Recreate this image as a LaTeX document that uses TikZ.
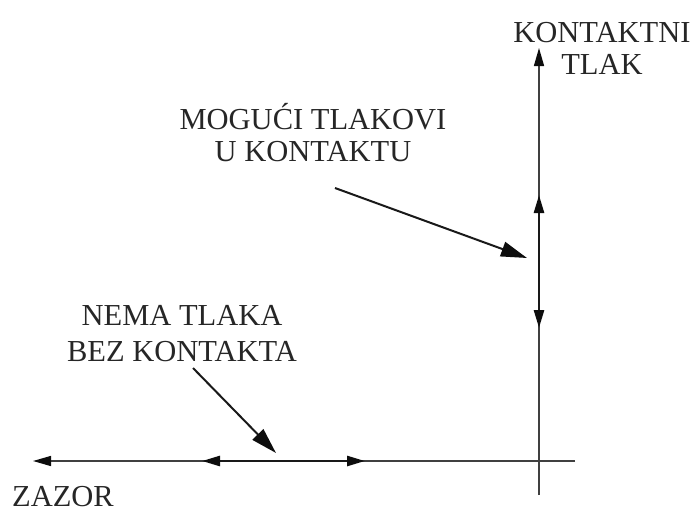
\documentclass[tikz,border=0pt]{standalone}
\usepackage{fontspec}
\setmainfont{Liberation Serif}
\usetikzlibrary{arrows.meta}

\tikzset{
	axis/.style={line width=1.4pt, draw=black!75},
	band/.style={line width=2.6pt, draw=black!90},
	tip/.style={-{Triangle[length=18pt,width=10pt,color=black!95]}},
	twotips/.style={{Triangle[length=18pt,width=10pt,color=black!95]}-{Triangle[length=18pt,width=10pt,color=black!95]}},
	pointer/.style={line width=2pt, draw=black!90, -{Triangle[length=26pt,width=15pt,color=black!95]}},
	label/.style={font=\fontsize{30.5}{32}\selectfont, align=center, inner sep=0pt, text=black!85},
}

\begin{document}
\begin{tikzpicture}[x=1pt, y=-1pt]
	\useasboundingbox (0,0) rectangle (697,512);
	
	% axes
	\coordinate (hl) at (33,461);
	\coordinate (hr) at (575,461);
	\coordinate (vt) at (539,48);
	\coordinate (vb) at (539,495);
	
	% bands on the axes
	\coordinate (b1) at (202,461);
	\coordinate (b2) at (365,461);
	\coordinate (c1) at (539,195);
	\coordinate (c2) at (539,328);
	
	% labels
	\node[label, anchor=base] (pressure) at (602,74) {KONTAKTNI\\TLAK};
	\node[label, anchor=base] (possible) at (313,161) {MOGUĆI TLAKOVI\\U KONTAKTU};
	\node[label, anchor=base, font=\fontsize{30.5}{36}\selectfont] (nopress) at (182,361) {NEMA TLAKA\\BEZ KONTAKTA};
	\node[label, anchor=base] (gap) at (63,506) {ZAZOR};
	
	% pointer ends
	\coordinate (p1) at (335,188);
	\coordinate (p2) at (527,258);
	\coordinate (q1) at (193,368);
	\coordinate (q2) at (276,453);
	
	\draw[axis, tip] (hr) -- (hl);
	\draw[axis, tip] (vb) -- (vt);
	\draw[band, twotips] (b1) -- (b2);
	\draw[band, twotips] (c2) -- (c1);
	
	\draw[pointer] (p1) -- (p2);
	\draw[pointer] (q1) -- (q2);
\end{tikzpicture}
\end{document}
